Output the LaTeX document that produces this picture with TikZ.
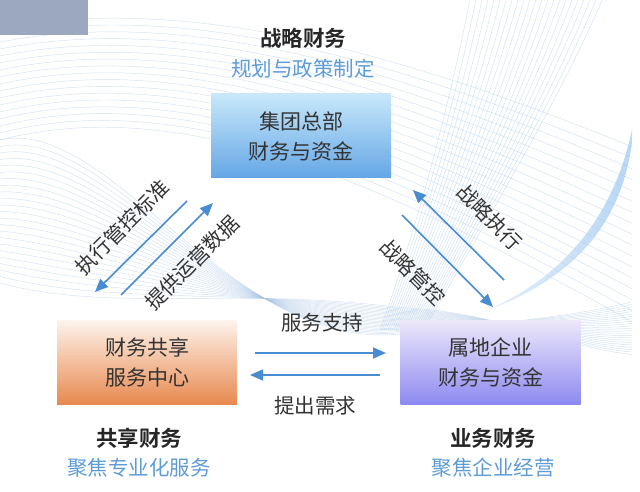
\documentclass[tikz,border=0pt]{standalone}
\usepackage{fontspec}
\setmainfont{Noto Sans CJK SC}
\newfontfamily\cjkb{Noto Sans CJK SC Bold}
\usetikzlibrary{arrows.meta}
\definecolor{bgline}{HTML}{A9C6E6}
\definecolor{grayrect}{HTML}{9BA8C0}
\definecolor{subblue}{HTML}{5E9CD8}
\definecolor{arrowblue}{HTML}{4A8CD2}
\definecolor{boxtext}{HTML}{333333}
\definecolor{hqtop}{HTML}{C8E8FA}
\definecolor{hqbot}{HTML}{64A6E6}
\definecolor{ssctop}{HTML}{FDF4EC}
\definecolor{sscbot}{HTML}{E8894F}
\definecolor{loctop}{HTML}{EEE8FB}
\definecolor{locbot}{HTML}{8C8AF0}
\begin{document}
\begin{tikzpicture}[x=1pt,y=-1pt,
  box/.style={minimum width=180pt,minimum height=84pt,inner sep=0pt,align=center,
    text=boxtext,font=\fontsize{21}{30}\selectfont},
  title/.style={font=\cjkb\fontsize{21.5}{24}\selectfont,text=black!85},
  subtitle/.style={font=\fontsize{20.5}{24}\selectfont,text=subblue},
  lab/.style={font=\fontsize{20.5}{24}\selectfont,text=boxtext,inner sep=0pt},
  conn/.style={draw=arrowblue,line width=1.6pt,-{Triangle[length=13pt,width=11pt]}},
  bg/.style={draw=bgline,line width=0.45pt,opacity=0.5}]
\useasboundingbox (0,0) rectangle (640,492);
\fill[white] (0,0) rectangle (640,492);
% background texture
\begin{scope}
\clip (0,0) rectangle (632,492);
\foreach \i in {0,...,22}{
  \draw[bg] (0,{140+6.5*\i}) .. controls (110,{115+9*\i}) and (230,{352-3*\i}) .. (400,{334-1.2*\i})
     .. controls (500,{322-0.5*\i}) and (570,{318+1.5*\i}) .. (640,{300+2.5*\i});
}
\foreach \i in {0,...,16}{
  \draw[bg] (0,{28+7*\i}) .. controls (200,{-8+6*\i}) and (420,{60+9*\i}) .. (640,{150+11*\i});
}
\foreach \i in {0,...,22}{
  \draw[bg] ({470+6*\i},0) .. controls ({450+5*\i},100) and ({420+3*\i},220) .. ({380+2*\i},330);
}
\shade[left color=white,right color=hqbot!70,opacity=0.65]
  (395,335) .. controls (520,318) and (610,250) .. (634,120)
  .. controls (628,235) and (560,305) .. (395,335) -- cycle;
\end{scope}
\fill[grayrect] (0,0) rectangle (88,35);
% titles
\node[title] (t1) at (303,38) {战略财务};
\node[subtitle] (s1) at (303,69) {规划与政策制定};
\node[title] (t2) at (139,438) {共享财务};
\node[subtitle] (s2) at (139,468) {聚焦专业化服务};
\node[title] (t3) at (493,438) {业务财务};
\node[subtitle] (s3) at (493,468) {聚焦企业经营};
% boxes
\node[box,top color=hqtop,bottom color=hqbot] (hq) at (301,136) {集团总部\\财务与资金};
\node[box,top color=ssctop,bottom color=sscbot] (ssc) at (147,362) {财务共享\\服务中心};
\node[box,top color=loctop,bottom color=locbot] (loc) at (490.5,362) {属地企业\\财务与资金};
% arrow end points
\coordinate (a1s) at (187,201); \coordinate (a1e) at (95,292);
\coordinate (a2s) at (121,295); \coordinate (a2e) at (213,203);
\coordinate (a3s) at (504,280); \coordinate (a3e) at (413,190);
\coordinate (a4s) at (402,215); \coordinate (a4e) at (493,307);
\coordinate (a5s) at (255,353); \coordinate (a5e) at (386,353);
\coordinate (a6s) at (380,375); \coordinate (a6e) at (250,375);
\draw[conn] (a1s) -- (a1e);
\draw[conn] (a2s) -- (a2e);
\draw[conn] (a3s) -- (a3e);
\draw[conn] (a4s) -- (a4e);
\draw[conn] (a5s) -- (a5e);
\draw[conn] (a6s) -- (a6e);
% arrow labels
\node[lab,rotate=45] (l1) at (122,227) {执行管控标准};
\node[lab,rotate=45] (l2) at (192,263) {提供运营数据};
\node[lab,rotate=-45] (l3) at (490,217) {战略执行};
\node[lab,rotate=-45] (l4) at (413,272) {战略管控};
\node[lab] (l5) at (322,323) {服务支持};
\node[lab] (l6) at (315,406) {提出需求};
\end{tikzpicture}
\end{document}
